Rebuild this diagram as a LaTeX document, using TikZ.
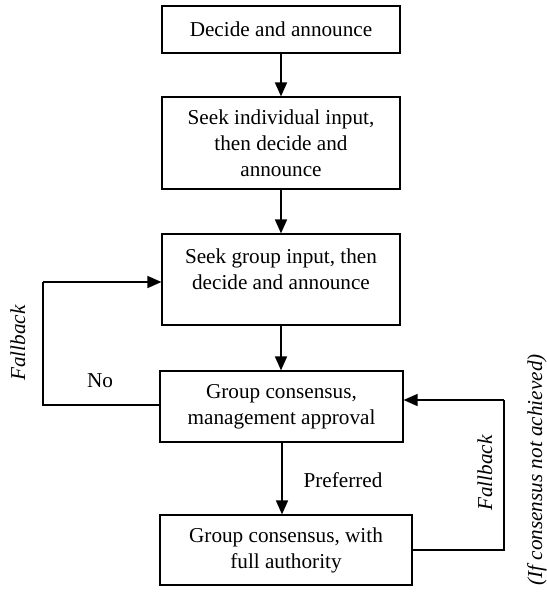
\documentclass[tikz,border=0pt]{standalone}
\usepackage{fontspec}
\setmainfont{Liberation Serif}
\usetikzlibrary{arrows.meta}
\begin{document}
\begin{tikzpicture}[x=0.5pt,y=-0.5pt,
  every node/.style={font=\fontsize{10.6}{13}\selectfont},
  stagebox/.style={draw, line width=0.6pt, align=center, inner sep=0pt},
  flow/.style={draw, line width=0.8pt, -{Triangle[length=7pt,width=6pt]}},
  loopline/.style={draw, line width=0.6pt},
  note/.style={font=\fontsize{10.6}{13}\selectfont\itshape, rotate=90}]
\useasboundingbox (0,0) rectangle (547,596);

% decision stages
\node[stagebox, minimum width=119pt, minimum height=23.5pt] (b1) at (281,29.5) {Decide and announce};
\node[stagebox, minimum width=119pt, minimum height=46pt] (b2) at (281,143) {Seek individual input,\\then decide and\\announce};
\node[stagebox, minimum width=119pt, minimum height=45.5pt] (b3) at (281,279.5) {Seek group input, then\\decide and announce\\[-6.1pt]\strut};
\node[stagebox, minimum width=121.5pt, minimum height=35.5pt] (b4) at (281.5,406.5) {Group consensus,\\management approval};
\node[stagebox, minimum width=126pt, minimum height=35pt] (b5) at (286,550) {Group consensus, with\\full authority};

% main sequence
\draw[flow] (b1.south -| 281,0) -- (b2.north -| 281,0);
\draw[flow] (b2.south -| 281,0) -- (b3.north -| 281,0);
\draw[flow] (b3.south -| 281,0) -- (b4.north -| 281,0);
\draw[flow] (b4.south -| 282,0) -- (b5.north -| 282,0);
\node (pref) at (343,480) {Preferred};

% left fallback loop
\coordinate (l1) at (43,405);
\coordinate (l2) at (43,282);
\draw[loopline] (b4.west |- l1) -- (l1) -- (l2);
\draw[flow] (l2) -- (b3.west |- l2);
\node (no) at (100,381) {No};
\node[note] (fbl) at (18,343) {Fallback};

% right fallback loop
\coordinate (r1) at (504,550);
\coordinate (r2) at (504,400);
\draw[loopline] (b5.east |- r1) -- (r1) -- (r2);
\draw[flow] (r2) -- (b4.east |- r2);
\node[note] (fbr) at (485,473) {Fallback};
\node[note] (cond) at (537,470) {(If consensus not achieved)};
\end{tikzpicture}
\end{document}
